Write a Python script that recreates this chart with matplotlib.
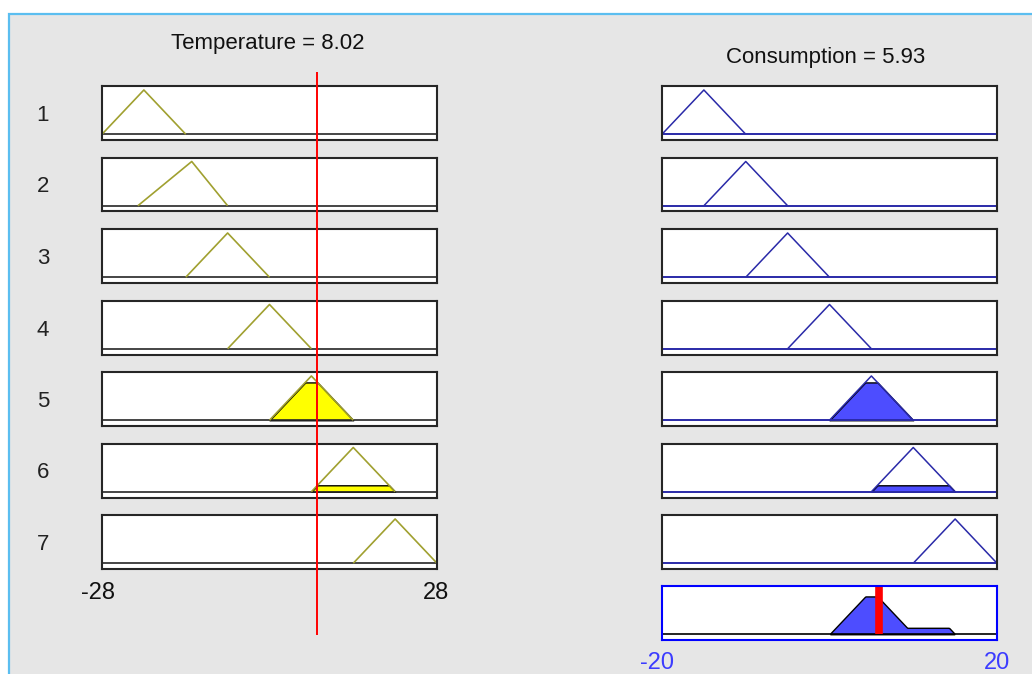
import numpy as np
import matplotlib.pyplot as plt
from matplotlib.patches import Rectangle

# fuzzy rule viewer: 7 rules, Temperature -> Consumption
temp_range = [-28, 28]
cons_range = [-20, 20]
temp_mfs = [
    [-28, -21, -14],
    [-22, -13, -7],
    [-14, -7, 0],
    [-7, 0, 7],
    [0, 7, 14],
    [7, 14, 21],
    [14, 21, 28],
]
cons_mfs = [
    [-20, -15, -10],
    [-15, -10, -5],
    [-10, -5, 0],
    [-5, 0, 5],
    [0, 5, 10],
    [5, 10, 15],
    [10, 15, 20],
]
rule_labels = ["1", "2", "3", "4", "5", "6", "7"]
temperature = 8.02
consumption = 5.93

W, H = 1032, 674
plt.rcParams['font.family'] = ['Liberation Sans', 'DejaVu Sans']

OLIVE = '#a0a030'
NAVY = '#2a2aa8'
YELLOW = '#ffff00'
FILLBLUE = '#4d4dff'
FRAME = '#262626'
BG = '#e6e6e6'


def tri(x, a, b, c):
    x = np.asarray(x, dtype=float)
    return np.clip(np.minimum((x - a) / (b - a), (c - x) / (c - b)), 0, 1)


def box(x0, y0, x1, y1):
    # pixel rectangle -> figure fraction
    return [x0 / W, 1 - y1 / H, (x1 - x0) / W, (y1 - y0) / H]


def panel(rect, xr, edge=FRAME):
    ax = fig.add_axes(rect)
    ax.set_xlim(xr)
    ax.set_ylim(-0.13, 1.09)
    ax.set_xticks([])
    ax.set_yticks([])
    for s in ax.spines.values():
        s.set_color(edge)
        s.set_linewidth(1.5)
    return ax


fig = plt.figure(figsize=(W / 100, H / 100), dpi=100)
fig.patch.set_facecolor('white')
fig.patches.append(Rectangle((9 / W, -0.1), 1.0, 1 - 14 / H + 0.1, transform=fig.transFigure,
                             facecolor=BG, edgecolor='#5bbef0', linewidth=1.6, zorder=-10))

firing = [float(tri(temperature, *mf)) for mf in temp_mfs]
xt = np.linspace(temp_range[0], temp_range[1], 561)
xc = np.linspace(cons_range[0], cons_range[1], 401)
agg = np.zeros_like(xc)

for i, (tmf, cmf, w) in enumerate(zip(temp_mfs, cons_mfs, firing)):
    top = 86 + i * 71.5
    # input membership function
    ax = panel(box(102, top, 437, top + 54), temp_range)
    ax.plot(xt, np.zeros_like(xt), color=FRAME, lw=1.2)
    if w > 0:
        sel = (xt >= tmf[0]) & (xt <= tmf[2])
        ax.fill_between(xt[sel], 0, np.minimum(tri(xt[sel], *tmf), w),
                        facecolor=YELLOW, edgecolor='black', lw=1.0)
    yt = tri(xt, *tmf)
    ax.plot(np.where(yt > 0, xt, np.nan), yt, color=OLIVE, lw=1.2)
    # output membership function
    ax = panel(box(662, top, 997, top + 54), cons_range)
    ax.plot(xc, np.zeros_like(xc), color=NAVY, lw=1.4)
    if w > 0:
        sel = (xc >= cmf[0]) & (xc <= cmf[2])
        clipped = np.minimum(tri(xc[sel], *cmf), w)
        ax.fill_between(xc[sel], 0, clipped, facecolor=FILLBLUE, edgecolor='black', lw=1.0)
        agg[sel] = np.maximum(agg[sel], clipped)
    yc = tri(xc, *cmf)
    ax.plot(np.where(yc > 0, xc, np.nan), yc, color=NAVY, lw=1.1)
    fig.text(43 / W, 1 - (top + 35) / H, rule_labels[i], fontsize=16,
             ha='center', va='baseline', color='#222222')

# aggregated output
ax = panel(box(662, 586, 997, 640), cons_range, edge='#0000ff')
ax.plot(xc, np.zeros_like(xc), color='black', lw=1.2)
ax.fill_between(xc, 0, agg, where=agg > 0, facecolor=FILLBLUE, edgecolor='black', lw=1.0)
ax.plot([consumption, consumption], [0, 1.06], color='#ff0000', lw=5.5, solid_capstyle='butt')

# input value marker
ov = fig.add_axes(box(102, 72, 437, 635))
ov.set_xlim(temp_range)
ov.set_ylim(0, 1)
ov.axis('off')
ov.axvline(temperature, color='#ff0000', lw=1.4)

fig.text(268 / W, 1 - 49 / H, f"Temperature = {temperature:.2f}", fontsize=16,
         ha='center', va='baseline', color='#111111')
fig.text(826 / W, 1 - 63 / H, f"Consumption = {consumption:.2f}", fontsize=16,
         ha='center', va='baseline', color='#111111')

fig.text(98 / W, 1 - 599 / H, f"{temp_range[0]}", fontsize=17, ha='center', va='baseline', color='#111111')
fig.text(436 / W, 1 - 599 / H, f"{temp_range[1]}", fontsize=17, ha='center', va='baseline', color='#111111')
fig.text(657 / W, 1 - 669 / H, f"{cons_range[0]}", fontsize=17, ha='center', va='baseline', color='#3c3cff')
fig.text(997 / W, 1 - 669 / H, f"{cons_range[1]}", fontsize=17, ha='center', va='baseline', color='#3c3cff')

fig.savefig('out.png', dpi=100, facecolor=fig.get_facecolor())
